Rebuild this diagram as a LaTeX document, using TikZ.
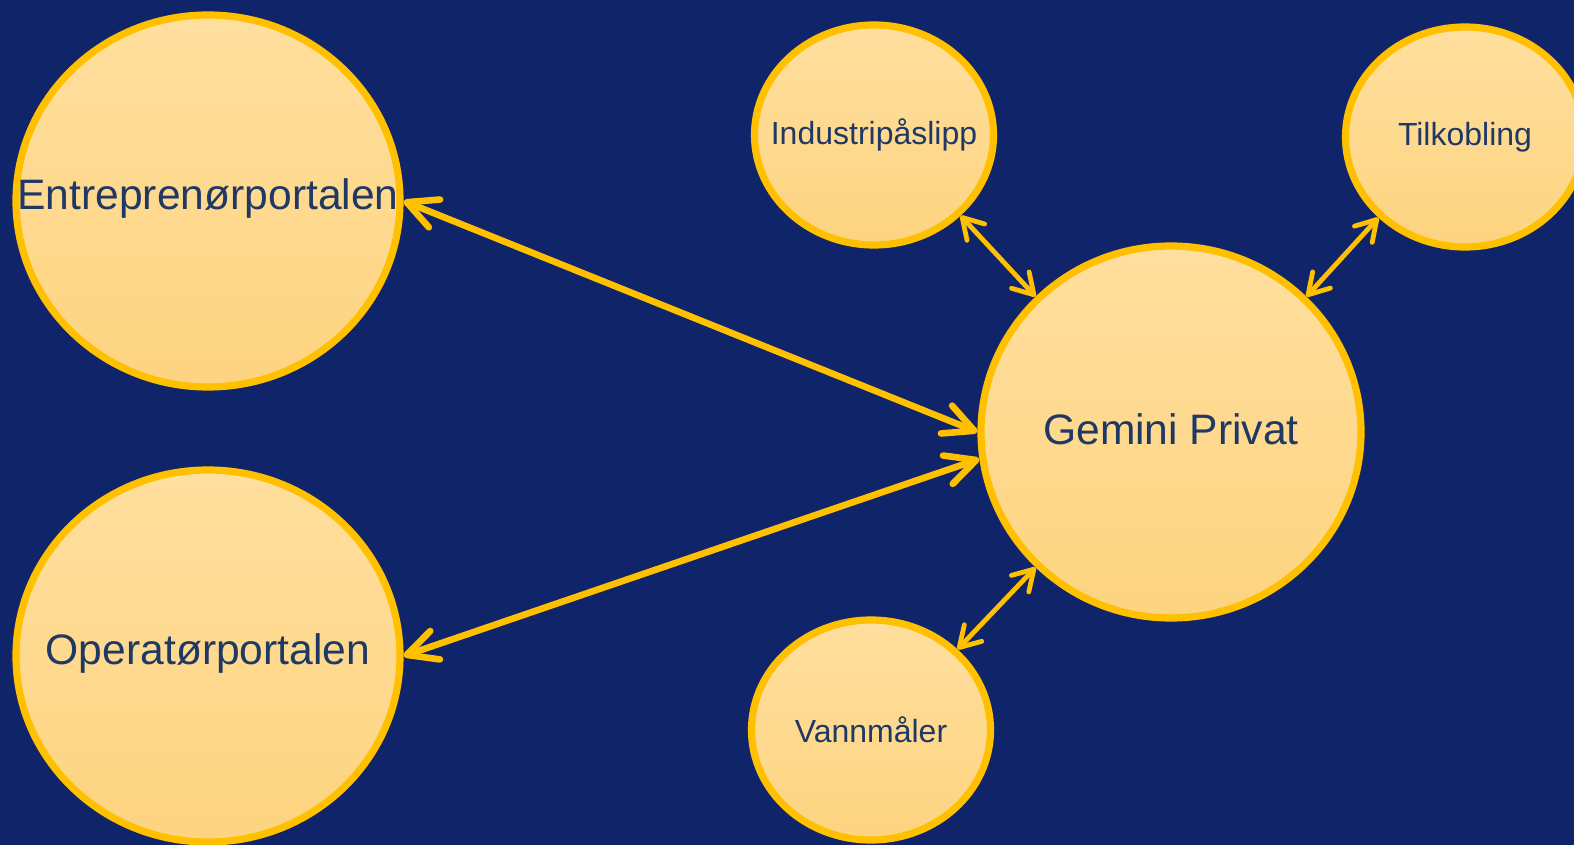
\documentclass[tikz,border=0pt]{standalone}
\usepackage{fontspec}
\setmainfont{Liberation Sans}
\usetikzlibrary{shapes.geometric,arrows.meta}
\definecolor{navy}{HTML}{10246A}
\definecolor{gold}{HTML}{FFC000}
\definecolor{cream}{HTML}{FFDF9E}
\definecolor{creamdark}{HTML}{FDD480}
\definecolor{ink}{HTML}{203864}

\begin{document}
\begin{tikzpicture}[
    x=0.5pt, y=-0.5pt,
    bubble/.style={
        ellipse, draw=gold,
        line width=3.6pt,
        top color=cream, bottom color=creamdark,
        inner sep=0pt
    },
    big/.style={bubble, minimum width=192pt, minimum height=186pt},
    small/.style={bubble, minimum width=119.5pt, minimum height=110pt},
    bigtext/.style={text=ink, yshift=1.5pt, font=\fontsize{21.3pt}{25pt}\selectfont},
    smalltext/.style={text=ink, font=\fontsize{16pt}{19pt}\selectfont},
    link/.style={draw=gold, line width=3.3pt, line cap=round,
        {Straight Barb[length=15pt,width=15pt,round]}-{Straight Barb[length=15pt,width=15pt,round]}},
    thinlink/.style={draw=gold, line width=2.4pt, line cap=round,
        {Straight Barb[length=10pt,width=12pt,round]}-{Straight Barb[length=10pt,width=12pt,round]}}
]
% background
\fill[navy] (0,0) rectangle (1574,845);
\useasboundingbox (0,0) rectangle (1574,845);

% portals
\node[big, label={[bigtext]center:Entreprenørportalen}] (entrep) at (208,201) {};
\node[big, label={[bigtext]center:Operatørportalen}] (operator) at (208,656) {};

% core
\node[big, minimum width=190pt, label={[bigtext]center:Gemini Privat}] (gemini) at (1171,432) {};

% satellites
\node[small, label={[smalltext]center:Industripåslipp}] (industri) at (874,135) {};
\node[small, label={[smalltext]center:Tilkobling}] (tilkobling) at (1465,137) {};
\node[small, label={[smalltext]center:Vannmåler}] (vannmaler) at (871,730) {};

% links
\draw[link] (entrep.east) -- (gemini.west);
\draw[link] (operator.east) -- (gemini.188);
\draw[thinlink] (industri.-43) -- (gemini.135);
\draw[thinlink] (tilkobling.223) -- (gemini.45);
\draw[thinlink] (vannmaler.43) -- (gemini.225);
\end{tikzpicture}
\end{document}
